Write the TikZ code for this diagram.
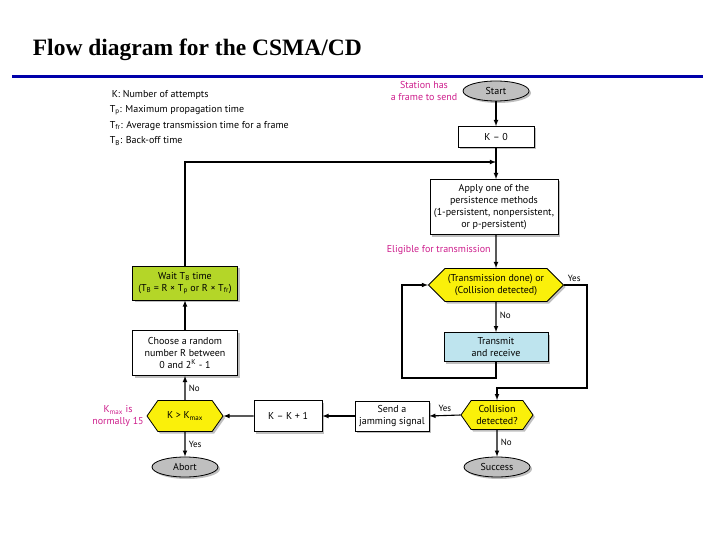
\documentclass[tikz,border=0pt]{standalone}
\usepackage{fontspec}
\setmainfont{PT Sans}
\newfontfamily\titlefont{Liberation Serif}
\usetikzlibrary{arrows,positioning,shapes.geometric,shapes.symbols,shadows}

\definecolor{hexyellow}{RGB}{250,240,10}
\definecolor{waitgreen}{RGB}{180,214,40}
\definecolor{txblue}{RGB}{190,228,238}
\definecolor{notepink}{RGB}{205,30,140}
\definecolor{rulerblue}{RGB}{0,0,170}

\begin{document}
\begin{tikzpicture}[x=1pt,y=-1pt,>=latex,
	line width=1.1pt,
	every node/.style={font=\fontsize{10}{12}\selectfont},
	shade/.style={drop shadow={shadow xshift=2pt,shadow yshift=-2pt,fill=black!50}},
	box/.style={rectangle,draw,fill=white,shade,align=center,inner sep=1.5pt,line width=0.8pt},
	term/.style={ellipse,draw,fill=black!25,shade,minimum width=66,minimum height=20,inner sep=1pt,line width=0.8pt},
	hex/.style={signal,signal to=east and west,draw,fill=hexyellow,shade,align=center,inner sep=0.5pt,line width=0.8pt},
	note/.style={text=notepink,align=center,font=\fontsize{10}{11.5}\selectfont},
	lbl/.style={font=\fontsize{9}{10}\selectfont}]

	\useasboundingbox (0,0) rectangle (720,540);

	\node[anchor=west,font=\titlefont\bfseries\fontsize{23.5}{26}\selectfont] (title) at (29,50) {Flow diagram for the CSMA/CD};
	\draw[rulerblue,line width=3pt] (12,77) -- (703,77);

	% legend
	\node[anchor=west] (lgK) at (108,95) {K: Number of attempts};
	\node[anchor=west] (lgTp) at (106,110) {T\textsubscript{p}: Maximum propagation time};
	\node[anchor=west] (lgTfr) at (106,126) {T\textsubscript{fr}: Average transmission time for a frame};
	\node[anchor=west] (lgTB) at (106,141) {T\textsubscript{B}: Back-off time};

	% right column
	\node[note] (station) at (424,91) {Station has\\a frame to send};
	\node[term] (start) at (496,91) {Start};
	\node[box,minimum width=76,minimum height=21] (k0) at (496,137) {K -- 0};
	\node[box,minimum width=128,minimum height=55] (apply) at (494,207) {Apply one of the\\persistence methods\\(1-persistent, nonpersistent,\\or p-persistent)};
	\node[note,anchor=west] (eligible) at (383,250) {Eligible for transmission};
	\node[hex,minimum width=135,minimum height=33] (txdec) at (496,285) {(Transmission done) or\\(Collision detected)};
	\node[box,fill=txblue,minimum width=104,minimum height=29] (txrx) at (496,347) {Transmit\\and receive};
	\node[hex,signal pointer angle=110,minimum width=72,minimum height=29] (coldec) at (497,415) {Collision\\detected?};
	\node[term] (success) at (497,467) {Success};

	% bottom row
	\node[box,minimum width=74,minimum height=30] (jam) at (392,416) {Send a\\jamming signal};
	\node[box,minimum width=68,minimum height=31] (kinc) at (288,416) {K -- K + 1};
	\node[hex,signal pointer angle=110,minimum width=76,minimum height=31] (kmax) at (185,416) {K > K\textsubscript{max}};
	\node[note] (kmaxnote) at (118,416) {K\textsubscript{max} is\\normally 15};
	\node[term] (abort) at (185,467) {Abort};

	% left column
	\node[box,minimum width=105,minimum height=45] (choose) at (185,353) {Choose a random\\number R between\\0 and 2\textsuperscript{K} - 1};
	\node[box,fill=waitgreen,minimum width=105,minimum height=34] (wait) at (185,283) {Wait T\textsubscript{B} time\\(T\textsubscript{B} = R × T\textsubscript{p} or R × T\textsubscript{fr})};

	\coordinate (merge) at (496,162);
	\coordinate (yesbend) at (587,388);
	\coordinate (loopL) at (402,378);

	\draw[->] (start) -- (k0);
	\draw[->] (k0) -- (merge |- apply.north);
	\draw[->] (apply.south -| txdec) -- (txdec);
	\draw[->] (txdec) -- node[lbl,right,pos=0.45] {No} (txrx);
	\draw[->] (txrx.south) |- (loopL) |- (txdec.west);
	\draw[->] (txdec.east) -| (yesbend) -| (coldec.north);
	\node[lbl,anchor=south west] (yes1) at (txdec.east) {Yes};
	\draw[->] (coldec.west) -- node[lbl,above] {Yes} (jam.east);
	\draw[->] (coldec) -- node[lbl,right,pos=0.45] {No} (success);
	\draw[->] (jam) -- (kinc);
	\draw[->] (kinc) -- (kmax);
	\draw[->] (kmax) -- node[lbl,right] {No} (choose);
	\draw[->] (kmax) -- node[lbl,right] {Yes} (abort);
	\draw[->] (choose) -- (wait);
	\draw[->] (wait.north) |- (merge);

\end{tikzpicture}
\end{document}
